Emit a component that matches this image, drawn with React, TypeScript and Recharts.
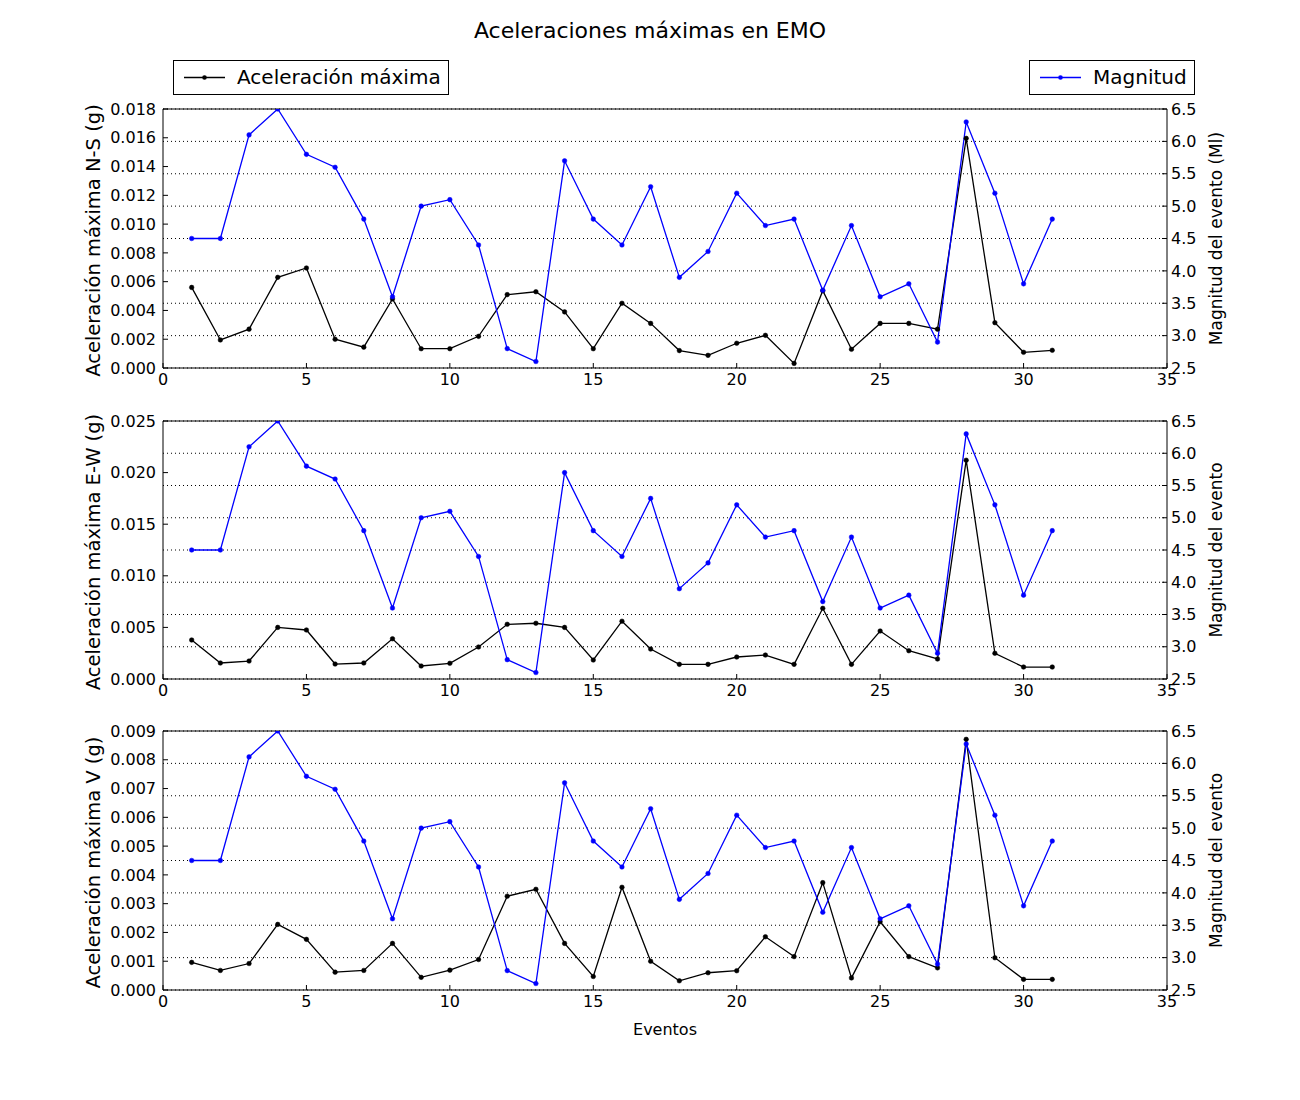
import { LineChart, Line, XAxis, YAxis, CartesianGrid } from 'recharts';

const eventos = [1, 2, 3, 4, 5, 6, 7, 8, 9, 10, 11, 12, 13, 14, 15, 16, 17, 18, 19, 20, 21, 22, 23, 24, 25, 26, 27, 28, 29, 30, 31];

const magnitud = [4.5, 4.5, 6.1, 6.5, 5.8, 5.6, 4.8, 3.6, 5.0, 5.1, 4.4, 2.8, 2.6, 5.7, 4.8, 4.4, 5.3, 3.9, 4.3, 5.2, 4.7, 4.8, 3.7, 4.7, 3.6, 3.8, 2.9, 6.3, 5.2, 3.8, 4.8];

const accNS = [0.0056, 0.00195, 0.0027, 0.0063, 0.00695, 0.002, 0.00145, 0.0048, 0.00134, 0.00134, 0.0022, 0.0051, 0.0053, 0.0039, 0.00134, 0.0045, 0.0031, 0.00121, 0.00088, 0.00172, 0.00227, 0.00032, 0.00537, 0.0013, 0.0031, 0.0031, 0.0027, 0.01596, 0.00315, 0.00109, 0.00123];
const accEW = [0.00378, 0.00155, 0.00174, 0.005, 0.00475, 0.00145, 0.00155, 0.0039, 0.00126, 0.00152, 0.0031, 0.0053, 0.0054, 0.005, 0.00184, 0.0056, 0.0029, 0.00142, 0.00142, 0.00213, 0.00232, 0.00142, 0.00685, 0.00142, 0.00465, 0.00274, 0.00194, 0.0212, 0.00249, 0.00116, 0.00116];
const accV = [0.00096, 0.00068, 0.00092, 0.00228, 0.00176, 0.00062, 0.00068, 0.00162, 0.00044, 0.00069, 0.00106, 0.00326, 0.0035, 0.00162, 0.00047, 0.00357, 0.001, 0.00032, 0.0006, 0.00067, 0.00185, 0.00116, 0.00373, 0.00042, 0.00237, 0.00116, 0.00077, 0.00871, 0.00112, 0.00037, 0.00037];

const ticksX = [0, 5, 10, 15, 20, 25, 30, 35];
const ticksMag = [2.5, 3, 3.5, 4, 4.5, 5, 5.5, 6, 6.5];
const ticksNS = [0, 0.002, 0.004, 0.006, 0.008, 0.01, 0.012, 0.014, 0.016, 0.018];
const ticksEW = [0, 0.005, 0.01, 0.015, 0.02, 0.025];
const ticksV = [0, 0.001, 0.002, 0.003, 0.004, 0.005, 0.006, 0.007, 0.008, 0.009];

const FONT = '"DejaVu Sans", sans-serif';
const BLUE = '#0000ff';
const BLACK = '#000000';

const tickStyle = { fill: '#000', fontSize: 16, fontFamily: FONT };

function Panel({ top, height, mTop, mBottom, acc, ticks, leftLabel, rightLabel, showXLabel }: any) {
  const data = eventos.map((e, i) => ({ x: e, acc: acc[i], mag: magnitud[i] }));
  const max = ticks[ticks.length - 1];

  return (
    <div style={{ position: 'absolute', left: 0, top, width: 1300, height }}>
      <LineChart width={1300} height={height} data={data} margin={{ top: mTop, right: 0, bottom: mBottom, left: 0 }}>
        <CartesianGrid xAxisId="bottom" yAxisId="right" vertical={false} stroke="#000" strokeDasharray="1 3" />
        <XAxis
          xAxisId="bottom"
          dataKey="x"
          type="number"
          domain={[0, 35]}
          ticks={ticksX}
          allowDataOverflow
          height={30}
          axisLine={{ stroke: '#000' }}
          tickLine={{ stroke: '#000' }}
          tickSize={-5}
          tickMargin={11}
          tick={tickStyle}
          label={showXLabel ? {
            content: (p: any) => (
              <text x={p.viewBox.x + p.viewBox.width / 2} y={p.viewBox.y + 45} textAnchor="middle" fontSize={16} fontFamily={FONT} fill="#000">
                Eventos
              </text>
            ),
          } : undefined}
        />
        <XAxis
          xAxisId="top"
          orientation="top"
          dataKey="x"
          type="number"
          domain={[0, 35]}
          ticks={ticksX}
          allowDataOverflow
          height={1}
          axisLine={{ stroke: '#000' }}
          tickLine={{ stroke: '#000' }}
          tickSize={-5}
          tick={false}
        />
        <YAxis
          yAxisId="left"
          type="number"
          domain={[0, max]}
          ticks={ticks}
          allowDataOverflow
          width={163}
          axisLine={{ stroke: '#000' }}
          tickLine={{ stroke: '#000' }}
          tickSize={-5}
          tickMargin={12}
          tick={tickStyle}
          tickFormatter={(v: number) => v.toFixed(3)}
          label={{
            content: (p: any) => {
              const cy = p.viewBox.y + p.viewBox.height / 2 + 2;
              return (
                <text x={93} y={cy} transform={`rotate(-90, 93, ${cy})`} textAnchor="middle" dominantBaseline="central" fontSize={19.5} fontFamily={FONT} fill="#000">
                  {leftLabel}
                </text>
              );
            },
          }}
        />
        <YAxis
          yAxisId="right"
          orientation="right"
          type="number"
          domain={[2.5, 6.5]}
          ticks={ticksMag}
          allowDataOverflow
          width={133}
          axisLine={{ stroke: '#000' }}
          tickLine={{ stroke: '#000' }}
          tickSize={-5}
          tickMargin={9}
          tick={tickStyle}
          tickFormatter={(v: number) => v.toFixed(1)}
          label={{
            content: (p: any) => {
              const cy = p.viewBox.y + p.viewBox.height / 2;
              return (
                <text x={1216} y={cy} transform={`rotate(-90, 1216, ${cy})`} textAnchor="middle" dominantBaseline="central" fontSize={17} fontFamily={FONT} fill="#000">
                  {rightLabel}
                </text>
              );
            },
          }}
        />
        <Line
          xAxisId="bottom"
          yAxisId="left"
          dataKey="acc"
          stroke={BLACK}
          strokeWidth={1.3}
          dot={{ r: 2.3, fill: BLACK, stroke: BLACK, strokeWidth: 0.5 }}
          isAnimationActive={false}
        />
        <Line
          xAxisId="top"
          yAxisId="right"
          dataKey="mag"
          stroke={BLUE}
          strokeWidth={1.3}
          dot={{ r: 2.3, fill: BLUE, stroke: BLUE, strokeWidth: 0.5 }}
          isAnimationActive={false}
        />
      </LineChart>
    </div>
  );
}

function LegendBox({ left, width, color, text }: any) {
  return (
    <div style={{ position: 'absolute', left, top: 60, width, height: 35, border: '1px solid #000', boxSizing: 'border-box', background: '#fff' }}>
      <svg width={50} height={33} style={{ position: 'absolute', left: 8, top: 0 }}>
        <line x1={2} y1={16.5} x2={43} y2={16.5} stroke={color} strokeWidth={1.3} />
        <circle cx={22.5} cy={16.5} r={2.3} fill={color} />
      </svg>
      <div style={{ position: 'absolute', left: 63, top: 0, height: 33, lineHeight: '33px', fontSize: 20, fontFamily: FONT, whiteSpace: 'nowrap' }}>
        {text}
      </div>
    </div>
  );
}

export default function App() {
  return (
    <div style={{ position: 'absolute', left: 0, top: 0, width: 1300, height: 1100, background: '#fff', fontFamily: FONT }}>
      <div style={{ position: 'absolute', left: 0, top: 17, width: 1300, textAlign: 'center', fontSize: 22, lineHeight: '28px' }}>
        Aceleraciones máximas en EMO
      </div>
      <LegendBox left={173} width={276} color={BLACK} text="Aceleración máxima" />
      <LegendBox left={1029} width={166} color={BLUE} text="Magnitud" />
      <Panel top={0} height={400} mTop={108} mBottom={2} acc={accNS} ticks={ticksNS} leftLabel="Aceleración máxima N-S (g)" rightLabel="Magnitud del evento (Ml)" />
      <Panel top={400} height={320} mTop={20} mBottom={11} acc={accEW} ticks={ticksEW} leftLabel="Aceleración máxima E-W (g)" rightLabel="Magnitud del evento" />
      <Panel top={720} height={380} mTop={10} mBottom={80} acc={accV} ticks={ticksV} leftLabel="Aceleración máxima V (g)" rightLabel="Magnitud del evento" showXLabel />
    </div>
  );
}
